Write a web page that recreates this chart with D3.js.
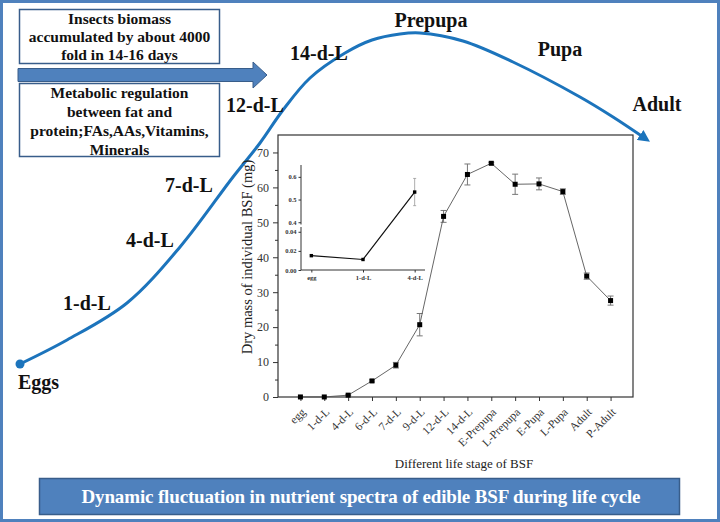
<!DOCTYPE html>
<html><head><meta charset="utf-8">
<script src="https://cdn.jsdelivr.net/npm/d3@7"></script>
<style>
html,body{margin:0;padding:0;background:#fff;}
svg{display:block;}
text{font-family:"Liberation Serif","Times New Roman",serif;}
</style></head>
<body>
<svg id="c" width="720" height="522"></svg>
<script>
// ---------------- DATA ----------------
const stages = ["egg","1-d-L","4-d-L","6-d-L","7-d-L","9-d-L","12-d-L","14-d-L","E-Prepupa","L-Prepupa","E-Pupa","L-Pupa","Adult","P-Adult"];
const dryMass = [0.015, 0.011, 0.53, 4.6, 9.1, 20.7, 51.7, 63.7, 66.9, 60.9, 61.0, 58.8, 34.6, 27.6];
const dryMassErr = [0, 0, 0.06, 0.3, 0.8, 3.2, 1.7, 3.0, 0.3, 2.9, 1.7, 0.8, 0.9, 1.3];
const yTicks = [0, 10, 20, 30, 40, 50, 60, 70];
const yMinorTicks = [5, 15, 25, 35, 45, 55, 65];

const insetStages = ["egg", "1-d-L", "4-d-L"];
const insetMass = [0.015, 0.011, 0.533];
const insetErr = [0, 0, 0.06];
const insetLowTicks = [0.00, 0.02, 0.04];
const insetHighTicks = [0.4, 0.5, 0.6];

const yTitle = "Dry mass of individual BSF (mg)";
const xTitle = "Different life stage of BSF";
const box1Lines = ["Insects biomass", "accumulated by about 4000", "fold in 14-16 days"];
const box2Lines = ["Metabolic regulation", "between fat and", "protein;FAs,AAs,Vitamins,", "Minerals"];
const bannerText = "Dynamic fluctuation in nutrient spectra  of  edible BSF during life cycle";
const cycleLabels = ["Eggs", "1-d-L", "4-d-L", "7-d-L", "12-d-L", "14-d-L", "Prepupa", "Pupa", "Adult"];

// ---------------- LAYOUT ----------------
const svg = d3.select("#c");
const BLUE = "#4f81bd", BLUE_DARK = "#385d8a", CURVE = "#1c74bc";

// outer frame
svg.append("rect").attr("x",1.5).attr("y",1.5).attr("width",717).attr("height",519)
  .attr("fill","#fff").attr("stroke",BLUE).attr("stroke-width",3);

// life-cycle curve (decorative guide path)
const guide = [[20,364],[67,340],[127,303],[180,247],[233,177],[260,143],[283,110],[310,78],[345,53],[372,40],[400,34],[420,33],[463,41],[513,62],[580,97],[613,117],[646,139]];
const defs = svg.append("defs");
defs.append("marker").attr("id","ah").attr("viewBox","0 0 10 10").attr("refX",6).attr("refY",5)
  .attr("markerWidth",4).attr("markerHeight",4).attr("orient","auto")
  .append("path").attr("d","M0,0L10,5L0,10z").attr("fill",CURVE);
svg.append("path").attr("d", d3.line().curve(d3.curveCatmullRom.alpha(0.5))(guide))
  .attr("fill","none").attr("stroke",CURVE).attr("stroke-width",3).attr("marker-end","url(#ah)");
svg.append("circle").attr("cx",guide[0][0]).attr("cy",guide[0][1]).attr("r",4.5).attr("fill",CURVE);

const cyclePos = [[18,389,"start"],[63,310,"start"],[126,247,"start"],[165,192,"start"],[226,112,"start"],[290,60,"start"],[431,27,"middle"],[560,56,"middle"],[657,111,"middle"]];
cycleLabels.forEach((t,i)=>{
  const p = cyclePos[i];
  svg.append("text").attr("x",p[0]).attr("y",p[1]).attr("text-anchor",p[2])
    .attr("font-size",20).attr("font-weight","bold").attr("fill","#111").text(t);
});

// boxes
function box(x,y,w,h,lines,y0,lh){
  svg.append("rect").attr("x",x).attr("y",y).attr("width",w).attr("height",h)
    .attr("fill","#fff").attr("stroke",BLUE_DARK).attr("stroke-width",1.5);
  lines.forEach((t,i)=>svg.append("text").attr("x",x+w/2).attr("y",y0+i*lh)
    .attr("text-anchor","middle").attr("font-size",15.5).attr("font-weight","bold").attr("fill","#111").text(t));
}
box(19.5,9.5,200,54,box1Lines,23.5,18.3);
box(19.5,83.5,200,73,box2Lines,97.5,19.3);
// block arrow
svg.append("path").attr("d","M18,68.5H253V62L267,75L253,88V81.5H18Z")
  .attr("fill",BLUE).attr("stroke",BLUE_DARK).attr("stroke-width",1);

// banner
svg.append("rect").attr("x",39.5).attr("y",478.5).attr("width",640).attr("height",36)
  .attr("fill",BLUE).attr("stroke",BLUE_DARK).attr("stroke-width",1.5);
svg.append("text").attr("x",361).attr("y",503).attr("text-anchor","middle")
  .attr("font-size",19).attr("font-weight","bold").attr("fill","#fff")
  .attr("textLength",559).attr("lengthAdjust","spacing").text(bannerText);

// ---------------- MAIN CHART ----------------
const L = 278, R = 633, T = 135, B = 397;
const x = d3.scalePoint().domain(stages).range([L,R]).padding(0.94);
const y = d3.scaleLinear().domain([0,75]).range([B,T]);
const g = svg.append("g");

g.append("rect").attr("x",L).attr("y",T).attr("width",R-L).attr("height",B-T)
  .attr("fill","none").attr("stroke","#333").attr("stroke-width",1.2);

// y axis
const yAx = g.append("g").attr("transform",`translate(${L},0)`)
  .call(d3.axisLeft(y).tickValues(yTicks).tickSize(5).tickPadding(4).tickFormat(d3.format("d")));
yAx.select(".domain").remove();
yAx.selectAll("line").attr("stroke","#333");
yAx.selectAll("text").attr("font-size",12).attr("fill","#333").style("font-family","Liberation Serif");
const yMin = g.append("g").attr("transform",`translate(${L},0)`)
  .call(d3.axisLeft(y).tickValues(yMinorTicks).tickSize(3).tickFormat(""));
yMin.select(".domain").remove();
yMin.selectAll("line").attr("stroke","#333");

// x axis
const xAx = g.append("g").attr("transform",`translate(0,${B})`)
  .call(d3.axisBottom(x).tickSize(4).tickFormat(""));
xAx.select(".domain").remove();
xAx.selectAll("line").attr("stroke","#333");
stages.forEach(s=>{
  g.append("text").attr("transform",`translate(${x(s)+3},${B+13}) rotate(-45)`)
    .attr("text-anchor","end").attr("dy","0.35em").attr("font-size",11.5).attr("fill","#333").text(s);
});

g.append("text").attr("x",464).attr("y",468).attr("text-anchor","middle")
  .attr("font-size",13).attr("fill","#222").text(xTitle);
g.append("text").attr("transform",`translate(252,257) rotate(-90)`).attr("text-anchor","middle")
  .attr("font-size",14.5).attr("fill","#222").text(yTitle);

// error bars
stages.forEach((s,i)=>{
  const e = dryMassErr[i]; if(!e) return;
  const cx = x(s), y1 = y(dryMass[i]+e), y2 = y(dryMass[i]-e);
  g.append("line").attr("x1",cx).attr("x2",cx).attr("y1",y1).attr("y2",y2).attr("stroke","#777").attr("stroke-width",1);
  [y1,y2].forEach(yy=>g.append("line").attr("x1",cx-3).attr("x2",cx+3).attr("y1",yy).attr("y2",yy).attr("stroke","#777").attr("stroke-width",1));
});
g.append("path").datum(stages.map((s,i)=>[x(s),y(dryMass[i])]))
  .attr("d",d3.line()).attr("fill","none").attr("stroke","#555").attr("stroke-width",0.9);
stages.forEach((s,i)=>g.append("rect").attr("x",x(s)-2.5).attr("y",y(dryMass[i])-2.5)
  .attr("width",5).attr("height",5).attr("fill","#000"));

// ---------------- INSET ----------------
const iL = 301, iR = 425, iB = 270;
const ix = d3.scalePoint().domain(insetStages).range([iL,iR]).padding(0.2);
const iyLow = d3.scaleLinear().domain([0,0.045]).range([iB,227]);
const iyHigh = d3.scaleLinear().domain([0.39,0.65]).range([224.5,165.5]);
const iy = v => v < 0.1 ? iyLow(v) : iyHigh(v);
const ig = svg.append("g");
ig.append("line").attr("x1",iL).attr("x2",iL).attr("y1",iB).attr("y2",165).attr("stroke","#333").attr("stroke-width",1);
ig.append("line").attr("x1",iL).attr("x2",iR).attr("y1",iB).attr("y2",iB).attr("stroke","#333").attr("stroke-width",1);
const ia1 = ig.append("g").attr("transform",`translate(${iL},0)`)
  .call(d3.axisLeft(iyLow).tickValues(insetLowTicks).tickSize(2.5).tickPadding(2).tickFormat(d3.format(".2f")));
const ia2 = ig.append("g").attr("transform",`translate(${iL},0)`)
  .call(d3.axisLeft(iyHigh).tickValues(insetHighTicks).tickSize(2.5).tickPadding(2).tickFormat(d3.format(".1f")));
[ia1,ia2].forEach(a=>{
  a.select(".domain").remove();
  a.selectAll("line").attr("stroke","#333");
  a.selectAll("text").attr("font-size",6.5).attr("font-weight","bold").attr("fill","#333").style("font-family","Liberation Serif");
});
const ia3 = ig.append("g").attr("transform",`translate(0,${iB})`)
  .call(d3.axisBottom(ix).tickSize(2.5).tickPadding(3));
ia3.select(".domain").remove();
ia3.selectAll("line").attr("stroke","#333");
ia3.selectAll("text").attr("font-size",6.5).attr("font-weight","bold").attr("fill","#333").style("font-family","Liberation Serif");
// break mark on axis
ig.append("rect").attr("x",iL-1.5).attr("y",224.5).attr("width",3).attr("height",2.5).attr("fill","#fff");

insetStages.forEach((s,i)=>{
  const e = insetErr[i]; if(!e) return;
  const cx = ix(s), y1 = iy(insetMass[i]+e), y2 = iy(insetMass[i]-e);
  ig.append("line").attr("x1",cx).attr("x2",cx).attr("y1",y1).attr("y2",y2).attr("stroke","#999").attr("stroke-width",0.8);
  [y1,y2].forEach(yy=>ig.append("line").attr("x1",cx-1.5).attr("x2",cx+1.5).attr("y1",yy).attr("y2",yy).attr("stroke","#999").attr("stroke-width",0.8));
});
ig.append("path").datum(insetStages.map((s,i)=>[ix(s),iy(insetMass[i])]))
  .attr("d",d3.line()).attr("fill","none").attr("stroke","#111").attr("stroke-width",1.2);
insetStages.forEach((s,i)=>ig.append("rect").attr("x",ix(s)-1.7).attr("y",iy(insetMass[i])-1.7)
  .attr("width",3.4).attr("height",3.4).attr("fill","#000"));
</script>
</body></html>
